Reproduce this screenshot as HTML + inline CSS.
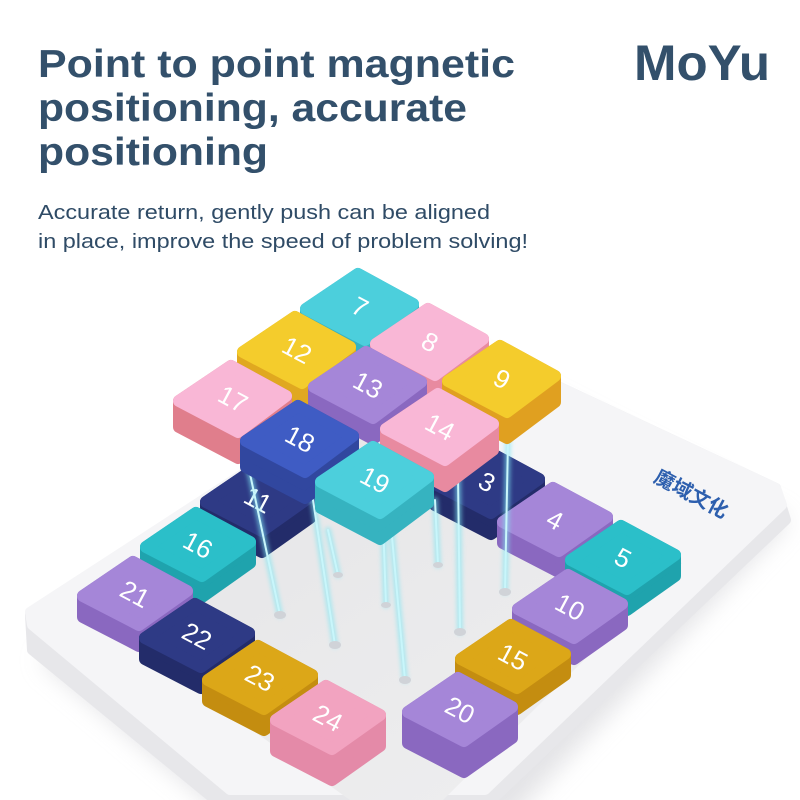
<!DOCTYPE html>
<html><head><meta charset="utf-8"><style>
html,body{margin:0;padding:0;background:#fff;}
svg{display:block}
.tt{font-family:"Liberation Sans",sans-serif;font-weight:bold;fill:#33506b}
.st{font-family:"Liberation Sans",sans-serif;fill:#2f4b66}
.s{stroke-linejoin:round;stroke-width:12}
.n{font-family:"Liberation Sans",sans-serif;fill:#fff;font-size:26px;text-anchor:middle;dominant-baseline:central}
</style></head><body>
<svg width="800" height="800" viewBox="0 0 800 800" xmlns="http://www.w3.org/2000/svg">
<defs>
<filter id="gl" x="-50%" y="-10%" width="200%" height="120%"><feGaussianBlur stdDeviation="2"/></filter>
<filter id="sh" x="-20%" y="-20%" width="140%" height="140%"><feGaussianBlur stdDeviation="12"/></filter>
<linearGradient id="fl" x1="0" y1="0" x2="1" y2="1"><stop offset="0" stop-color="#e4e4e6"/><stop offset="1" stop-color="#efeff0"/></linearGradient>
</defs>
<text class="tt" x="38" y="77" font-size="39" textLength="477" lengthAdjust="spacingAndGlyphs">Point to point magnetic</text>
<text class="tt" x="38" y="121" font-size="39" textLength="429" lengthAdjust="spacingAndGlyphs">positioning, accurate</text>
<text class="tt" x="38" y="165" font-size="39" textLength="230" lengthAdjust="spacingAndGlyphs">positioning</text>
<text class="tt" x="634" y="80" font-size="50" textLength="136" lengthAdjust="spacingAndGlyphs">MoYu</text>
<text class="st" x="38" y="219" font-size="20" textLength="452" lengthAdjust="spacingAndGlyphs">Accurate return, gently push can be aligned</text>
<text class="st" x="38" y="248" font-size="20" textLength="490" lengthAdjust="spacingAndGlyphs">in place, improve the speed of problem solving!</text>

<!-- board -->
<polygon points="40,660 453,350 790,520 510,820 230,820" fill="#d8d8dc" filter="url(#sh)" opacity="0.7"/>
<polygon points="30,615 453,337 776,488 786,520 492,800 215,800 32,650" fill="#e7e7ea" stroke="#e7e7ea" stroke-width="10" stroke-linejoin="round"/>
<polygon points="30,612 453,337 776,488 782,505 485,790 230,790 32,625" fill="#f5f5f7" stroke="#f5f5f7" stroke-width="10" stroke-linejoin="round"/>
<polygon points="77,605 367,411 682,563 443,800 350,800" fill="url(#fl)"/>
<polygon points="77,605 367,411 375,418 90,610" fill="#c9c9cc"/>
<text x="688" y="500" font-family="'Liberation Sans','Noto Sans CJK SC',sans-serif" font-weight="bold" font-size="20" fill="#2d5fae" transform="rotate(28 688 500)" text-anchor="middle">魔域文化</text>

<!-- bottom tiles -->
<g transform="translate(258,500)"><path class="s" d="M-2,-32 L52,-3 L52,18 L4,52 L-52,23 L-52,2 Z" fill="#232c6a" stroke="#232c6a"/><path class="s" d="M-2,-32 L52,-3 L4,31 L-52,2 Z" fill="#2e3a85" stroke="#2e3a85"/><text class="n" transform="rotate(28)">11</text></g>
<g transform="translate(487,482)"><path class="s" d="M-2,-32 L52,-3 L52,18 L4,52 L-52,23 L-52,2 Z" fill="#232c6a" stroke="#232c6a"/><path class="s" d="M-2,-32 L52,-3 L4,31 L-52,2 Z" fill="#2e3a85" stroke="#2e3a85"/><text class="n" transform="rotate(28)">3</text></g>
<g transform="translate(555,520)"><path class="s" d="M-2,-32 L52,-3 L52,18 L4,52 L-52,23 L-52,2 Z" fill="#8a68c0" stroke="#8a68c0"/><path class="s" d="M-2,-32 L52,-3 L4,31 L-52,2 Z" fill="#a586d8" stroke="#a586d8"/><text class="n" transform="rotate(28)">4</text></g>
<g transform="translate(198,545)"><path class="s" d="M-2,-32 L52,-3 L52,18 L4,52 L-52,23 L-52,2 Z" fill="#1fa3ad" stroke="#1fa3ad"/><path class="s" d="M-2,-32 L52,-3 L4,31 L-52,2 Z" fill="#2bbfc9" stroke="#2bbfc9"/><text class="n" transform="rotate(28)">16</text></g>
<g transform="translate(623,558)"><path class="s" d="M-2,-32 L52,-3 L52,18 L4,52 L-52,23 L-52,2 Z" fill="#1fa3ad" stroke="#1fa3ad"/><path class="s" d="M-2,-32 L52,-3 L4,31 L-52,2 Z" fill="#2bbfc9" stroke="#2bbfc9"/><text class="n" transform="rotate(28)">5</text></g>
<g transform="translate(135,594)"><path class="s" d="M-2,-32 L52,-3 L52,18 L4,52 L-52,23 L-52,2 Z" fill="#8a68c0" stroke="#8a68c0"/><path class="s" d="M-2,-32 L52,-3 L4,31 L-52,2 Z" fill="#a586d8" stroke="#a586d8"/><text class="n" transform="rotate(28)">21</text></g>
<g transform="translate(570,607)"><path class="s" d="M-2,-32 L52,-3 L52,18 L4,52 L-52,23 L-52,2 Z" fill="#8a68c0" stroke="#8a68c0"/><path class="s" d="M-2,-32 L52,-3 L4,31 L-52,2 Z" fill="#a586d8" stroke="#a586d8"/><text class="n" transform="rotate(28)">10</text></g>
<g transform="translate(197,636)"><path class="s" d="M-2,-32 L52,-3 L52,18 L4,52 L-52,23 L-52,2 Z" fill="#232c6a" stroke="#232c6a"/><path class="s" d="M-2,-32 L52,-3 L4,31 L-52,2 Z" fill="#2e3a85" stroke="#2e3a85"/><text class="n" transform="rotate(28)">22</text></g>
<g transform="translate(513,657)"><path class="s" d="M-2,-32 L52,-3 L52,18 L4,52 L-52,23 L-52,2 Z" fill="#c48d10" stroke="#c48d10"/><path class="s" d="M-2,-32 L52,-3 L4,31 L-52,2 Z" fill="#dca718" stroke="#dca718"/><text class="n" transform="rotate(28)">15</text></g>
<g transform="translate(260,678)"><path class="s" d="M-2,-32 L52,-3 L52,18 L4,52 L-52,23 L-52,2 Z" fill="#c48d10" stroke="#c48d10"/><path class="s" d="M-2,-32 L52,-3 L4,31 L-52,2 Z" fill="#dca718" stroke="#dca718"/><text class="n" transform="rotate(28)">23</text></g>
<g transform="translate(460,710)"><path class="s" d="M-2,-32 L52,-3 L52,28 L4,62 L-52,33 L-52,2 Z" fill="#8a68c0" stroke="#8a68c0"/><path class="s" d="M-2,-32 L52,-3 L4,31 L-52,2 Z" fill="#a586d8" stroke="#a586d8"/><text class="n" transform="rotate(28)">20</text></g>
<g transform="translate(328,718)"><path class="s" d="M-2,-32 L52,-3 L52,28 L4,62 L-52,33 L-52,2 Z" fill="#e48aa8" stroke="#e48aa8"/><path class="s" d="M-2,-32 L52,-3 L4,31 L-52,2 Z" fill="#f2a3c0" stroke="#f2a3c0"/><text class="n" transform="rotate(28)">24</text></g>

<!-- pins -->
<g stroke-linecap="round">
<g stroke="#7fe6f2" stroke-width="6" opacity="0.6" filter="url(#gl)">
<line x1="246" y1="455" x2="280" y2="615"/><line x1="313" y1="500" x2="335" y2="645"/><line x1="390" y1="515" x2="405" y2="680"/><line x1="458" y1="475" x2="460" y2="632"/><line x1="508" y1="440" x2="505" y2="592"/><line x1="435" y1="500" x2="438" y2="565"/><line x1="383" y1="520" x2="386" y2="605"/><line x1="328" y1="530" x2="338" y2="575"/>
</g>
<g stroke="#c9f6fb" stroke-width="2">
<line x1="246" y1="455" x2="280" y2="615"/><line x1="313" y1="500" x2="335" y2="645"/><line x1="390" y1="515" x2="405" y2="680"/><line x1="458" y1="475" x2="460" y2="632"/><line x1="508" y1="440" x2="505" y2="592"/><line x1="435" y1="500" x2="438" y2="565"/><line x1="383" y1="520" x2="386" y2="605"/><line x1="328" y1="530" x2="338" y2="575"/>
</g>
<g fill="#d0d3d8"><ellipse cx="280" cy="615" rx="6" ry="4"/><ellipse cx="335" cy="645" rx="6" ry="4"/><ellipse cx="405" cy="680" rx="6" ry="4"/><ellipse cx="460" cy="632" rx="6" ry="4"/><ellipse cx="505" cy="592" rx="6" ry="4"/><ellipse cx="438" cy="565" rx="5" ry="3"/><ellipse cx="386" cy="605" rx="5" ry="3"/><ellipse cx="338" cy="575" rx="5" ry="3"/></g>
</g>

<!-- top tiles -->
<g transform="translate(360,307)"><path class="s" d="M-2,-33 L53,-3 L53,18 L5,54 L-54,23 L-54,2 Z" fill="#36b3c0" stroke="#36b3c0"/><path class="s" d="M-2,-33 L53,-3 L5,33 L-54,2 Z" fill="#4ccfdc" stroke="#4ccfdc"/><text class="n" transform="rotate(28)">7</text></g>
<g transform="translate(297,350)"><path class="s" d="M-2,-33 L53,-3 L53,18 L5,54 L-54,23 L-54,2 Z" fill="#e0a820" stroke="#e0a820"/><path class="s" d="M-2,-33 L53,-3 L5,33 L-54,2 Z" fill="#f4cc2c" stroke="#f4cc2c"/><text class="n" transform="rotate(28)">12</text></g>
<g transform="translate(430,342)"><path class="s" d="M-2,-33 L53,-3 L53,18 L5,54 L-54,23 L-54,2 Z" fill="#e88aa0" stroke="#e88aa0"/><path class="s" d="M-2,-33 L53,-3 L5,33 L-54,2 Z" fill="#f9b7d6" stroke="#f9b7d6"/><text class="n" transform="rotate(28)">8</text></g>
<g transform="translate(502,379)"><path class="s" d="M-2,-33 L53,-3 L53,23 L5,59 L-54,28 L-54,2 Z" fill="#e0a020" stroke="#e0a020"/><path class="s" d="M-2,-33 L53,-3 L5,33 L-54,2 Z" fill="#f4cc2c" stroke="#f4cc2c"/><text class="n" transform="rotate(28)">9</text></g>
<g transform="translate(368,385)"><path class="s" d="M-2,-33 L53,-3 L53,18 L5,54 L-54,23 L-54,2 Z" fill="#8a68c0" stroke="#8a68c0"/><path class="s" d="M-2,-33 L53,-3 L5,33 L-54,2 Z" fill="#a586d8" stroke="#a586d8"/><text class="n" transform="rotate(28)">13</text></g>
<g transform="translate(233,399)"><path class="s" d="M-2,-33 L53,-3 L53,23 L5,59 L-54,28 L-54,2 Z" fill="#e07e8c" stroke="#e07e8c"/><path class="s" d="M-2,-33 L53,-3 L5,33 L-54,2 Z" fill="#f9b7d6" stroke="#f9b7d6"/><text class="n" transform="rotate(28)">17</text></g>
<g transform="translate(440,427)"><path class="s" d="M-2,-33 L53,-3 L53,23 L5,59 L-54,28 L-54,2 Z" fill="#e88aa0" stroke="#e88aa0"/><path class="s" d="M-2,-33 L53,-3 L5,33 L-54,2 Z" fill="#f9b7d6" stroke="#f9b7d6"/><text class="n" transform="rotate(28)">14</text></g>
<g transform="translate(300,439)"><path class="s" d="M-2,-33 L53,-3 L53,23 L5,59 L-54,28 L-54,2 Z" fill="#31479f" stroke="#31479f"/><path class="s" d="M-2,-33 L53,-3 L5,33 L-54,2 Z" fill="#3f5cc4" stroke="#3f5cc4"/><text class="n" transform="rotate(28)">18</text></g>
<g transform="translate(375,480)"><path class="s" d="M-2,-33 L53,-3 L53,23 L5,59 L-54,28 L-54,2 Z" fill="#36b3c0" stroke="#36b3c0"/><path class="s" d="M-2,-33 L53,-3 L5,33 L-54,2 Z" fill="#4ccfdc" stroke="#4ccfdc"/><text class="n" transform="rotate(28)">19</text></g>
</svg>
</body></html>
